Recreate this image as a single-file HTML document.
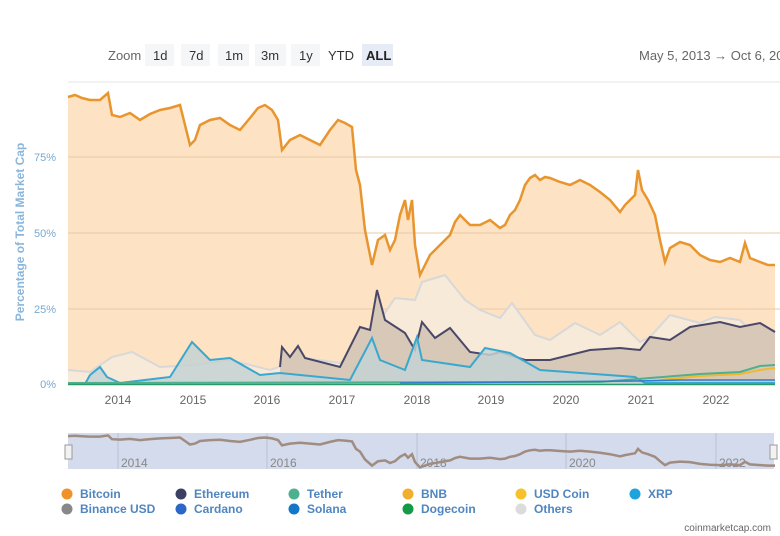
<!DOCTYPE html>
<html><head><meta charset="utf-8"><style>
body{margin:0;background:#fff;font-family:"Liberation Sans",sans-serif;}
svg{display:block}
</style></head><body>
<svg width="780" height="536" viewBox="0 0 780 536" xmlns="http://www.w3.org/2000/svg" font-family="Liberation Sans, sans-serif">
<defs>
<polyline id="btc" points="68,97 75,95 82,98 90,100 100,100 108,93 112,115 120,117 130,113 140,120 150,114 160,110 170,108 180,105 185,125 190,145 195,140 200,125 210,120 220,118 230,125 240,130 250,118 258,108 265,105 272,110 278,120 282,150 290,140 300,135 310,140 320,145 330,130 338,120 345,123 352,127 356,170 360,185 365,230 372,265 378,240 385,235 390,250 395,240 400,215 405,200 408,220 412,200 415,245 420,275 425,265 430,255 440,245 450,235 455,222 460,215 470,225 480,225 490,220 500,228 505,225 510,215 515,210 520,200 525,185 530,178 535,175 540,180 545,177 550,178 560,182 570,185 580,180 590,185 600,192 610,200 620,212 625,205 630,200 635,195 638,170 642,190 648,200 655,215 660,240 665,262 670,248 680,242 690,245 700,255 710,260 720,262 730,258 740,262 745,243 750,258 760,262 768,265 775,265"/>
</defs>
<text x="108" y="60" font-size="13" fill="#666">Zoom</text>
<g font-size="13" fill="#333">
<rect x="145" y="44" width="29" height="22" fill="#f5f6f8"/><text x="153" y="60">1d</text>
<rect x="181" y="44" width="29" height="22" fill="#f5f6f8"/><text x="189" y="60">7d</text>
<rect x="218" y="44" width="31" height="22" fill="#f5f6f8"/><text x="225" y="60">1m</text>
<rect x="255" y="44" width="31" height="22" fill="#f5f6f8"/><text x="261" y="60">3m</text>
<rect x="291" y="44" width="29" height="22" fill="#f5f6f8"/><text x="299" y="60">1y</text>
<text x="328" y="60">YTD</text>
<rect x="362" y="44" width="31" height="22" fill="#e6ebf5"/><text x="366" y="60" font-weight="bold" fill="#222">ALL</text>
</g>
<text x="639" y="60" font-size="13" fill="#666">May 5, 2013  →  Oct 6, 2022</text>
<line x1="68" y1="82" x2="780" y2="82" stroke="#e6e6e6"/>
<polygon points="68,384 68,97 75,95 82,98 90,100 100,100 108,93 112,115 120,117 130,113 140,120 150,114 160,110 170,108 180,105 185,125 190,145 195,140 200,125 210,120 220,118 230,125 240,130 250,118 258,108 265,105 272,110 278,120 282,150 290,140 300,135 310,140 320,145 330,130 338,120 345,123 352,127 356,170 360,185 365,230 372,265 378,240 385,235 390,250 395,240 400,215 405,200 408,220 412,200 415,245 420,275 425,265 430,255 440,245 450,235 455,222 460,215 470,225 480,225 490,220 500,228 505,225 510,215 515,210 520,200 525,185 530,178 535,175 540,180 545,177 550,178 560,182 570,185 580,180 590,185 600,192 610,200 620,212 625,205 630,200 635,195 638,170 642,190 648,200 655,215 660,240 665,262 670,248 680,242 690,245 700,255 710,260 720,262 730,258 740,262 745,243 750,258 760,262 768,265 775,265 775,384" fill="#fde2c4"/>
<g stroke="#e8c9a8" stroke-width="1"><line x1="68" y1="157" x2="780" y2="157"/><line x1="68" y1="233" x2="780" y2="233"/><line x1="68" y1="309" x2="780" y2="309"/></g>
<polygon points="68,384 68,370 90,372 112,357 132,352 160,367 195,365 230,360 270,370 305,358 340,363 360,347 380,320 395,298 415,300 422,282 445,275 465,300 480,310 500,318 512,303 535,335 550,340 575,323 600,335 620,322 640,342 650,337 670,315 700,323 715,317 740,320 750,330 775,330 775,384" fill="#f7ead9"/>
<polyline points="68,370 90,372 112,357 132,352 160,367 195,365 230,360 270,370 305,358 340,363 360,347 380,320 395,298 415,300 422,282 445,275 465,300 480,310 500,318 512,303 535,335 550,340 575,323 600,335 620,322 640,342 650,337 670,315 700,323 715,317 740,320 750,330 775,330" fill="none" stroke="#d8d8d8" stroke-width="2"/>
<polygon points="280,384 280,367 282,347 290,357 298,346 305,358 340,367 360,327 370,330 377,290 385,320 405,333 415,350 422,322 435,338 450,328 470,352 490,355 500,352 525,360 550,360 590,350 620,348 640,350 650,337 670,340 690,327 720,322 740,327 760,323 775,332 775,384" fill="#d8c8b8"/>
<polyline points="280,367 282,347 290,357 298,346 305,358 340,367 360,327 370,330 377,290 385,320 405,333 415,350 422,322 435,338 450,328 470,352 490,355 500,352 525,360 550,360 590,350 620,348 640,350 650,337 670,340 690,327 720,322 740,327 760,323 775,332" fill="none" stroke="#4a4868" stroke-width="2"/>
<polygon points="68,384 85,384 90,375 100,367 107,377 120,383 170,377 192,342 210,360 230,358 260,375 280,373 350,380 372,338 380,360 405,370 417,337 422,360 470,367 485,348 510,353 540,370 635,377 645,383 775,383 775,384" fill="#c4d2d2" opacity="0.85"/>
<polyline points="85,384 90,375 100,367 107,377 120,383 170,377 192,342 210,360 230,358 260,375 280,373 350,380 372,338 380,360 405,370 417,337 422,360 470,367 485,348 510,353 540,370 635,377 645,383 775,383" fill="none" stroke="#3aa7cf" stroke-width="2"/>
<polyline points="660,380 700,376 740,374 760,370 775,368" fill="none" stroke="#f0b830" stroke-width="2"/>
<polyline points="68,383 600,382 650,378 700,374 740,372 760,366 775,365" fill="none" stroke="#4fb08f" stroke-width="2"/>
<polyline points="400,383 640,381 680,380 775,380" fill="none" stroke="#2e7bd0" stroke-width="1.5"/>
<line x1="68" y1="384.5" x2="775" y2="384.5" stroke="#2a9a6a" stroke-width="1.5"/>
<use href="#btc" fill="none" stroke="#e8952e" stroke-width="2.5"/>
<g font-size="11" fill="#7aa8d0" text-anchor="end">
<text x="56" y="161">75%</text><text x="56" y="237">50%</text><text x="56" y="313">25%</text><text x="56" y="388">0%</text></g>
<text transform="translate(24,232) rotate(-90)" text-anchor="middle" font-size="12" font-weight="bold" fill="#8ab6dc">Percentage of Total Market Cap</text>
<g font-size="12" fill="#666" text-anchor="middle">
<text x="118" y="404">2014</text><text x="193" y="404">2015</text><text x="267" y="404">2016</text><text x="342" y="404">2017</text><text x="417" y="404">2018</text><text x="491" y="404">2019</text><text x="566" y="404">2020</text><text x="641" y="404">2021</text><text x="716" y="404">2022</text></g>
<rect x="68" y="433" width="706" height="36" fill="#d3dbec"/>
<g stroke="#b8c2d8"><line x1="118" y1="433" x2="118" y2="469"/><line x1="267" y1="433" x2="267" y2="469"/><line x1="417" y1="433" x2="417" y2="469"/><line x1="566" y1="433" x2="566" y2="469"/><line x1="716" y1="433" x2="716" y2="469"/></g>
<g font-size="12" fill="#888"><text x="121" y="467">2014</text><text x="270" y="467">2016</text><text x="420" y="467">2018</text><text x="569" y="467">2020</text><text x="719" y="467">2022</text></g>
<polyline fill="none" stroke="#a08c80" stroke-width="2.5" points="68,436.1 75,435.7 82,436.2 90,436.6 100,436.6 108,435.4 112,439.2 120,439.6 130,438.9 140,440.1 150,439.1 160,438.4 170,438 180,437.5 185,441 190,444.5 195,443.6 200,441 210,440.1 220,439.8 230,441 240,441.9 250,439.8 258,438 265,437.5 272,438.4 278,440.1 282,445.4 290,443.6 300,442.8 310,443.6 320,444.5 330,441.9 338,440.1 345,440.6 352,441.4 356,448.9 360,451.6 365,459.5 372,465.6 378,461.2 385,460.4 390,463 395,461.2 400,456.8 405,454.2 408,457.7 412,454.2 415,462.1 420,467.4 425,465.6 430,463.9 440,462.1 450,460.4 455,458.1 460,456.8 470,458.6 480,458.6 490,457.7 500,459.1 505,458.6 510,456.8 515,456 520,454.2 525,451.6 530,450.3 535,449.8 540,450.7 545,450.2 550,450.3 560,451 570,451.6 580,450.7 590,451.6 600,452.8 610,454.2 620,456.3 625,455.1 630,454.2 635,453.3 638,448.9 642,452.4 648,454.2 655,456.8 660,461.2 665,465.1 670,462.6 680,461.6 690,462.1 700,463.9 710,464.8 720,465.1 730,464.4 740,465.1 745,461.8 750,464.4 760,465.1 768,465.6 775,465.6"/>
<rect x="65" y="445" width="7" height="14" fill="#f2f2f2" stroke="#999"/><rect x="770" y="445" width="7" height="14" fill="#f2f2f2" stroke="#999"/>
<g font-size="12" font-weight="bold" fill="#4f86c0">
<circle cx="67" cy="494" r="5.5" fill="#f0922a"/><text x="80" y="498">Bitcoin</text>
<circle cx="181" cy="494" r="5.5" fill="#3d3f63"/><text x="194" y="498">Ethereum</text>
<circle cx="294" cy="494" r="5.5" fill="#4fb08f"/><text x="307" y="498">Tether</text>
<circle cx="408" cy="494" r="5.5" fill="#f0b02e"/><text x="421" y="498">BNB</text>
<circle cx="521" cy="494" r="5.5" fill="#f7c12a"/><text x="534" y="498">USD Coin</text>
<circle cx="635" cy="494" r="5.5" fill="#1ea3dc"/><text x="648" y="498">XRP</text>
<circle cx="67" cy="509" r="5.5" fill="#888"/><text x="80" y="513">Binance USD</text>
<circle cx="181" cy="509" r="5.5" fill="#2b66c8"/><text x="194" y="513">Cardano</text>
<circle cx="294" cy="509" r="5.5" fill="#1277c8"/><text x="307" y="513">Solana</text>
<circle cx="408" cy="509" r="5.5" fill="#149a48"/><text x="421" y="513">Dogecoin</text>
<circle cx="521" cy="509" r="5.5" fill="#dcdcdc"/><text x="534" y="513">Others</text>
</g>
<text x="771" y="531" font-size="10" fill="#666" text-anchor="end">coinmarketcap.com</text>
</svg>
</body></html>
